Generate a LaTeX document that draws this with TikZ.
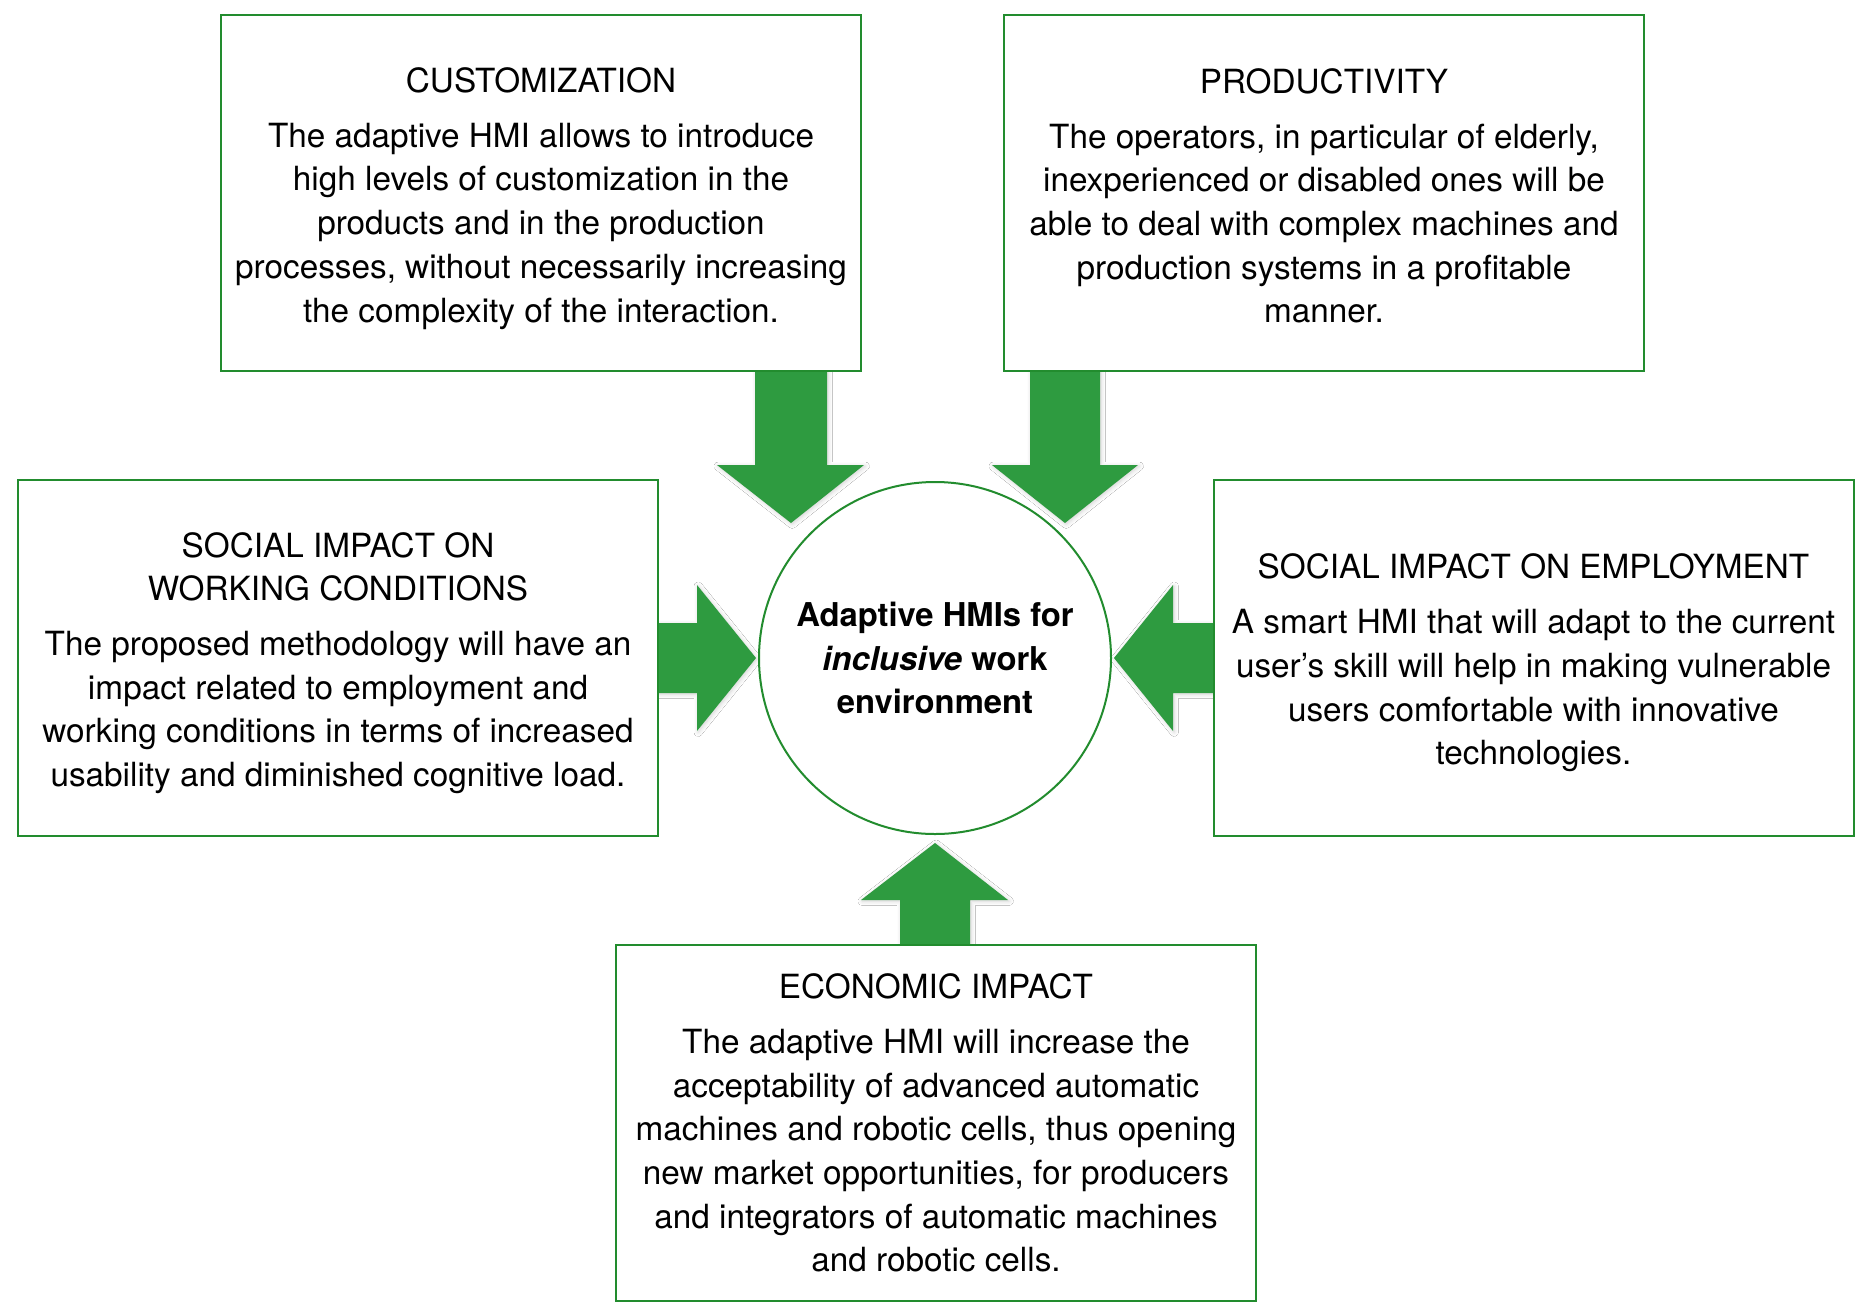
\documentclass[tikz,border=0pt]{standalone}
\usepackage{fontspec}
\setmainfont{TeX Gyre Heros}
\usetikzlibrary{shadows.blur}
\definecolor{boxgreen}{RGB}{34,140,46}
\definecolor{arrowgreen}{RGB}{46,155,64}
\tikzset{
  infobox/.style={draw=boxgreen, line width=1pt, rectangle, minimum width=320pt, minimum height=178pt, align=center, inner sep=0pt, font=\fontsize{16.65}{21.85}\selectfont},
  hub/.style={draw=boxgreen, line width=1pt, circle, minimum size=176pt, align=center, inner sep=0pt, font=\fontsize{16.4}{21.85}\selectfont\bfseries},
  blockarrow/.style={fill=arrowgreen, draw=none, blur shadow={shadow blur steps=6, shadow xshift=0.6pt, shadow yshift=-0.6pt, shadow opacity=18}}
}
\begin{document}
\begin{tikzpicture}[x=0.5pt,y=-0.5pt]
\useasboundingbox (0,0) rectangle (1875,1313);
\fill[white] (0,0) rectangle (1875,1313);

% arrows (drawn first)
\fill[blockarrow] (755,360) -- (827,360) -- (827,465) -- (864,465) -- (791,523) -- (717,465) -- (755,465) -- cycle;
\fill[blockarrow] (1030,360) -- (1100,360) -- (1100,465) -- (1138,465) -- (1065,523) -- (992,465) -- (1030,465) -- cycle;
\fill[blockarrow] (650,623) -- (697,623) -- (697,585) -- (756,658) -- (697,731) -- (697,693) -- (650,693) -- cycle;
\fill[blockarrow] (1222,623) -- (1173,623) -- (1173,585) -- (1114,658) -- (1173,731) -- (1173,693) -- (1222,693) -- cycle;
\fill[blockarrow] (900,955) -- (970,955) -- (970,900) -- (1008,900) -- (935,843) -- (861,900) -- (900,900) -- cycle;

% boxes
\node[infobox, fill=white, minimum height=178pt] (cust) at (541,192.5) {};
\node[align=center, inner sep=0pt, font=\fontsize{16.65}{21.85}\selectfont] (custtxt) at (541,198.5) {CUSTOMIZATION\\[5.5pt]
The adaptive HMI allows to introduce\\
high levels of customization in the\\
products and in the production\\
processes, without necessarily increasing\\
the complexity of the interaction.};

\node[infobox, fill=white] (prod) at (1324,192.5) {};
\node[align=center, inner sep=0pt, font=\fontsize{16.65}{21.85}\selectfont] (prodtxt) at (1324,196) {PRODUCTIVITY\\[5.5pt]
The operators, in particular of elderly,\\
inexperienced or disabled ones will be\\
able to deal with complex machines and\\
production systems in a profitable\\
manner.};

\node[infobox, fill=white] (work) at (338,658) {};
\node[align=center, inner sep=0pt, font=\fontsize{16.65}{21.85}\selectfont] (worktxt) at (338,663) {SOCIAL IMPACT ON\\
WORKING CONDITIONS\\[5.5pt]
The proposed methodology will have an\\
impact related to employment and\\
working conditions in terms of increased\\
usability and diminished cognitive load.};

\node[infobox, fill=white] (empl) at (1533.5,658) {};
\node[align=center, inner sep=0pt, font=\fontsize{16.65}{21.85}\selectfont] (empltxt) at (1533.5,663) {SOCIAL IMPACT ON EMPLOYMENT\\[5.5pt]
A smart HMI that will adapt to the current\\
user’s skill will help in making vulnerable\\
users comfortable with innovative\\
technologies.};

\node[infobox, fill=white] (econ) at (936,1123) {};
\node[align=center, inner sep=0pt, font=\fontsize{16.65}{21.85}\selectfont] (econtxt) at (936,1123) {ECONOMIC IMPACT\\[5.5pt]
The adaptive HMI will increase the\\
acceptability of advanced automatic\\
machines and robotic cells, thus opening\\
new market opportunities, for producers\\
and integrators of automatic machines\\
and robotic cells.};

\node[hub, fill=white] (hub) at (935,658) {Adaptive HMIs for\\
\textit{inclusive} work\\
environment};
\end{tikzpicture}
\end{document}
